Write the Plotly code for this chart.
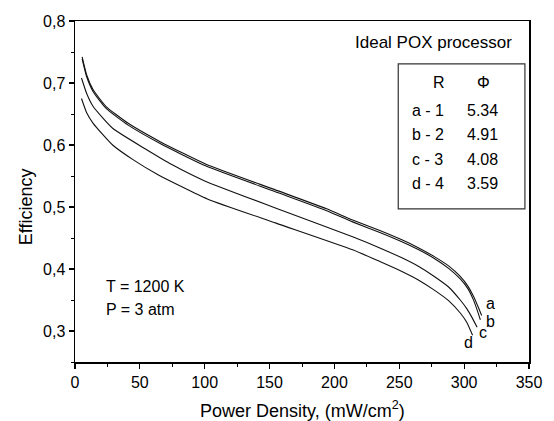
import plotly.graph_objects as go

# ---- data ----
x_a = [5.5, 9, 14, 24, 41, 66, 101, 154, 194, 214, 235, 252, 265, 277, 288, 297, 303, 307, 311, 313.5]
y_a = [0.742, 0.713, 0.689, 0.662, 0.635, 0.605, 0.569, 0.528, 0.497, 0.479, 0.462, 0.447, 0.434, 0.420, 0.405, 0.388, 0.372, 0.357, 0.338, 0.325]

x_b = [5.5, 9, 14, 24, 41, 66, 101, 154, 194, 214, 235, 252, 265, 277, 288, 297, 303, 307, 310, 312.5]
y_b = [0.739, 0.710, 0.686, 0.659, 0.632, 0.602, 0.566, 0.525, 0.494, 0.476, 0.459, 0.444, 0.431, 0.417, 0.401, 0.384, 0.368, 0.351, 0.334, 0.318]

x_c = [5, 9, 14, 29, 54, 75, 100, 155, 214, 235, 252, 265, 277, 288, 297, 302, 306, 310]
y_c = [0.708, 0.683, 0.662, 0.627, 0.594, 0.568, 0.542, 0.498, 0.452, 0.434, 0.418, 0.404, 0.388, 0.371, 0.350, 0.336, 0.322, 0.306]

x_d = [5, 9, 14, 29, 45, 64, 102, 155, 214, 235, 252, 265, 277, 288, 297, 302, 306.5]
y_d = [0.675, 0.652, 0.635, 0.600, 0.576, 0.552, 0.513, 0.474, 0.431, 0.412, 0.396, 0.382, 0.366, 0.349, 0.329, 0.314, 0.293]

curve_labels = ["a", "b", "c", "d"]
table_R = ["a - 1", "b - 2", "c - 3", "d - 4"]
table_phi = ["5.34", "4.91", "4.08", "3.59"]

x_ticks = [0, 50, 100, 150, 200, 250, 300, 350]
y_ticks = [0.3, 0.4, 0.5, 0.6, 0.7, 0.8]

FONT = "Liberation Sans, Arial, Helvetica, sans-serif"

fig = go.Figure()
for xs, ys in [(x_a, y_a), (x_b, y_b), (x_c, y_c), (x_d, y_d)]:
    fig.add_trace(go.Scatter(x=xs, y=ys, mode="lines",
                             line=dict(color="#111111", width=1.1, shape="spline", smoothing=0.5),
                             showlegend=False, hoverinfo="skip"))

# curve end labels (data coords)
label_pos = [(320, 0.345), (320, 0.316), (314.6, 0.297), (303.3, 0.282)]
for lab, (lx, ly) in zip(curve_labels, label_pos):
    fig.add_annotation(x=lx, y=ly, xref="x", yref="y", text=lab, showarrow=False,
                       font=dict(size=16, color="black", family=FONT),
                       xanchor="center", yanchor="middle")

# table box
fig.add_shape(type="rect", xref="paper", yref="paper",
              x0=0.712, x1=0.991, y0=0.449, y1=0.874,
              line=dict(color="#333333", width=1.2), fillcolor="rgba(0,0,0,0)")

fig.add_annotation(x=0.968, y=0.9355, xref="paper", yref="paper", text="Ideal POX processor",
                   showarrow=False, xanchor="right", yanchor="middle",
                   font=dict(size=17, color="black", family=FONT))
fig.add_annotation(x=0.802, y=0.821, xref="paper", yref="paper", text="R",
                   showarrow=False, xanchor="center", yanchor="middle",
                   font=dict(size=16, color="black", family=FONT))
fig.add_annotation(x=0.899, y=0.821, xref="paper", yref="paper", text="Φ",
                   showarrow=False, xanchor="center", yanchor="middle",
                   font=dict(size=16, color="black", family=FONT))
row_y = [0.739, 0.6686, 0.5953, 0.5249]
for r, p, ry in zip(table_R, table_phi, row_y):
    fig.add_annotation(x=0.7376, y=ry, xref="paper", yref="paper", text=r,
                       showarrow=False, xanchor="left", yanchor="middle",
                       font=dict(size=16, color="black", family=FONT))
    fig.add_annotation(x=0.860, y=ry, xref="paper", yref="paper", text=p,
                       showarrow=False, xanchor="left", yanchor="middle",
                       font=dict(size=16, color="black", family=FONT))

fig.add_annotation(x=0.0645, y=0.22, xref="paper", yref="paper", text="T = 1200 K",
                   showarrow=False, xanchor="left", yanchor="middle",
                   font=dict(size=16, color="black", family=FONT))
fig.add_annotation(x=0.0645, y=0.155, xref="paper", yref="paper", text="P = 3 atm",
                   showarrow=False, xanchor="left", yanchor="middle",
                   font=dict(size=16, color="black", family=FONT))

# axis titles
fig.add_annotation(x=0.5, y=-0.139, xref="paper", yref="paper",
                   text="Power Density, (mW/cm<sup>2</sup>)",
                   showarrow=False, xanchor="center", yanchor="middle",
                   font=dict(size=18, color="black", family=FONT))
fig.add_annotation(x=-0.1075, y=0.4545, xref="paper", yref="paper", text="Efficiency",
                   textangle=-90, showarrow=False, xanchor="center", yanchor="middle",
                   font=dict(size=18, color="black", family=FONT))

axis_common = dict(showline=True, linecolor="black", linewidth=1.5, mirror=True,
                   ticks="outside", ticklen=5, tickwidth=1.2, tickcolor="black",
                   showgrid=False, zeroline=False,
                   tickfont=dict(size=16, color="black", family=FONT))

fig.update_xaxes(range=[0, 350], tickvals=x_ticks,
                 minor=dict(dtick=25, tick0=0, ticks="outside", ticklen=3, tickcolor="black", tickwidth=1),
                 **axis_common)
fig.update_yaxes(range=[0.25, 0.8], tickvals=y_ticks, tickformat=".1f",
                 minor=dict(dtick=0.05, tick0=0.25, ticks="outside", ticklen=3, tickcolor="black", tickwidth=1),
                 **axis_common)

fig.update_layout(width=554, height=421,
                  margin=dict(l=75, r=14, t=21, b=59),
                  paper_bgcolor="white", plot_bgcolor="white",
                  separators=",.",
                  hovermode=False,
                  font=dict(family=FONT, color="black"))

# remove the default 8px page margin so the figure sits at the window's top-left corner
fig.write_html("out.html",
               config=dict(displayModeBar=False, staticPlot=True),
               post_script="document.body.style.margin='0';document.body.style.overflow='hidden';")
